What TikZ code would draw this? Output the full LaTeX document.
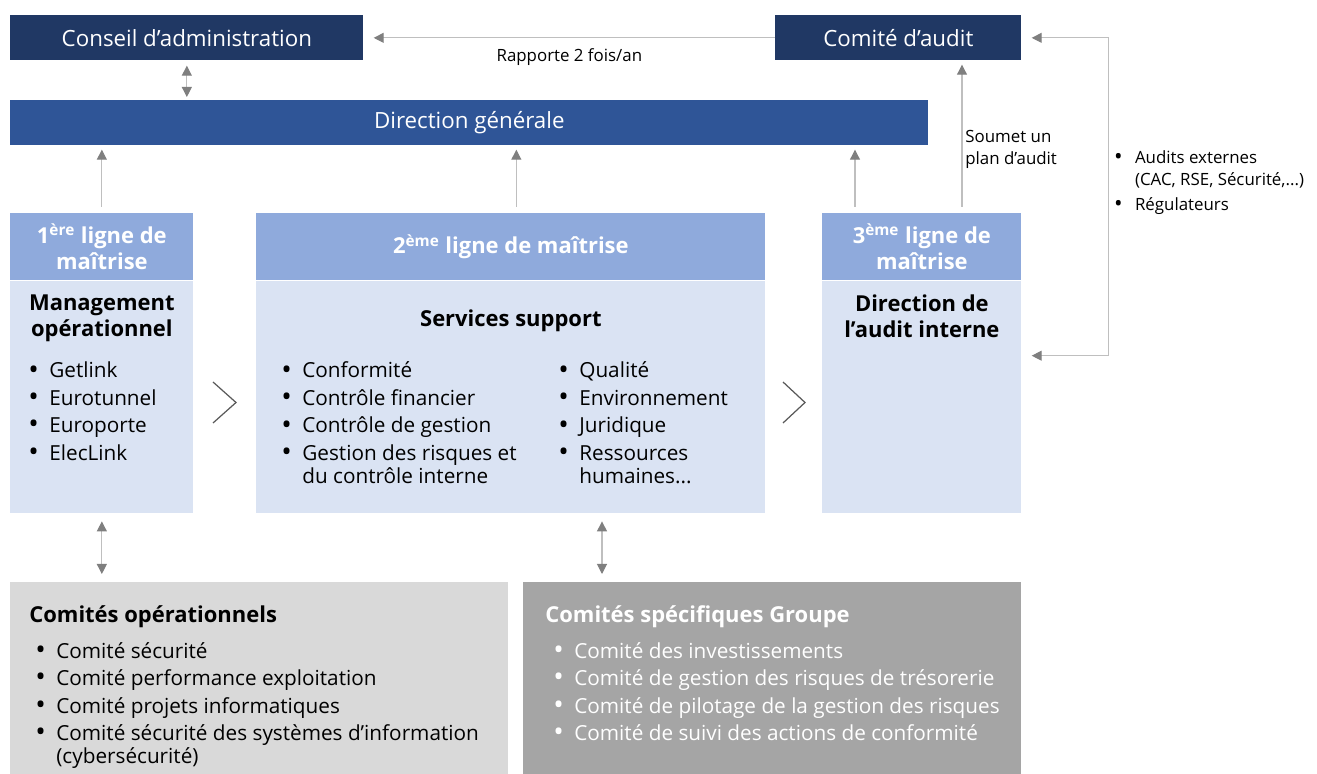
\documentclass[tikz,border=0pt]{standalone}
\usepackage{fontspec}
\setmainfont{Open Sans}
\usepackage{xcolor}
\usepackage{tikz}
\usetikzlibrary{arrows.meta, positioning}
\definecolor{navy}{HTML}{203864}
\definecolor{dgblue}{HTML}{2F5597}
\definecolor{headblue}{HTML}{8FAADC}
\definecolor{bodyblue}{HTML}{DAE3F3}
\definecolor{opgrey}{HTML}{D9D9D9}
\definecolor{grpgrey}{HTML}{A5A5A5}
\definecolor{linegrey}{HTML}{BFBFBF}
\definecolor{tipgrey}{HTML}{7F7F7F}
\definecolor{chevgrey}{HTML}{595959}
\newcommand{\bul}{\makebox[0.42cm][l]{\raisebox{-0.12ex}{\scalebox{1.35}{\textbullet}}}}
\newcommand{\bulind}{\hspace*{0.42cm}}
\newcommand{\listsize}{\fontsize{11.8}{13}\selectfont}
\tikzset{
  topbox/.style={rectangle, fill=navy, text=white, minimum height=0.9cm, inner sep=0pt, font=\fontsize{12.7}{14}\selectfont},
  dgbox/.style={topbox, fill=dgblue},
  headbox/.style={rectangle, fill=headblue, text=white, minimum height=1.34cm, inner sep=0pt, align=center, font=\bfseries\fontsize{12.5}{15.3}\selectfont},
  bodybox/.style={rectangle, fill=bodyblue, minimum height=4.64cm, inner sep=0pt},
  combox/.style={rectangle, minimum width=9.96cm, minimum height=3.84cm, inner sep=0pt},
  boxtitle/.style={inner sep=0pt, align=center, font=\bfseries\fontsize{12.5}{14.7}\selectfont},
  items/.style={inner sep=0pt, align=left, font=\listsize},
  note/.style={inner sep=0pt, align=left, font=\fontsize{9.6}{12.5}\selectfont},
  arrow/.style={draw=linegrey, line width=0.6pt, -{Triangle[length=2mm, width=2mm, color=tipgrey]}},
  twoway/.style={draw=linegrey, line width=0.6pt, {Triangle[length=2mm, width=2mm, color=tipgrey]}-{Triangle[length=2mm, width=2mm, color=tipgrey]}},
  chevron/.style={draw=chevgrey, line width=0.7pt},
}

\begin{document}
\begin{tikzpicture}
  \useasboundingbox (0,0) rectangle (26.34,-15.48);

  % top of the governance
  \node (conseil) [topbox, minimum width=7.06cm, anchor=north west] at (0.2,-0.3) {Conseil d’administration};
  \node (audit) [topbox, minimum width=4.92cm, anchor=north west] at (15.5,-0.3) {Comité d’audit};
  \node (dg) [dgbox, minimum width=18.36cm, anchor=north west] at (0.2,-2.0) {Direction générale};

  % three lines
  \node (head1) [headbox, minimum width=3.66cm, anchor=north west] at (0.2,-4.26) {1\textsuperscript{ère} ligne de\\maîtrise};
  \node (head2) [headbox, minimum width=10.18cm, anchor=north west] at (5.12,-4.26) {2\textsuperscript{ème} ligne de maîtrise};
  \node (head3) [headbox, minimum width=3.98cm, anchor=north west] at (16.44,-4.26) {3\textsuperscript{ème} ligne de\\maîtrise};
  \node (body1) [bodybox, minimum width=3.66cm, below=0pt of head1] {};
  \node (body2) [bodybox, minimum width=10.18cm, below=0pt of head2] {};
  \node (body3) [bodybox, minimum width=3.98cm, below=0pt of head3] {};

  \node (mgmt) [boxtitle, below=0.28cm of body1.north] {Management\\opérationnel};
  \node (srv) [boxtitle, below=0.58cm of body2.north] {Services support};
  \node (dai) [boxtitle, below=0.28cm of body3.north] {Direction de\\l’audit interne};

  \node (list1) [items, anchor=north west] at ([xshift=0.36cm, yshift=-1.62cm]body1.north west)
    {\bul Getlink\\[2.6pt]\bul Eurotunnel\\[2.6pt]\bul Europorte\\[2.6pt]\bul ElecLink};
  \node (list2a) [items, anchor=north west] at ([xshift=0.5cm, yshift=-1.62cm]body2.north west)
    {\bul Conformité\\[2.6pt]\bul Contrôle financier\\[2.6pt]\bul Contrôle de gestion\\[2.6pt]\bul Gestion des risques et\\\bulind du contrôle interne};
  \node (list2b) [items, anchor=north west] at ([xshift=6.04cm, yshift=-1.62cm]body2.north west)
    {\bul Qualité\\[2.6pt]\bul Environnement\\[2.6pt]\bul Juridique\\[2.6pt]\bul Ressources\\\bulind humaines...};

  % committees
  \node (comop) [combox, fill=opgrey, anchor=north west] at (0.2,-11.64) {};
  \node (comgrp) [combox, fill=grpgrey, anchor=north west] at (10.46,-11.64) {};
  \node (optitle) [boxtitle, anchor=north west] at ([xshift=0.38cm, yshift=-0.46cm]comop.north west) {Comités opérationnels};
  \node (oplist) [items, anchor=north west] at ([xshift=0.5cm, yshift=-1.2cm]comop.north west)
    {\bul Comité sécurité\\[2.6pt]\bul Comité performance exploitation\\[2.6pt]\bul Comité projets informatiques\\[2.6pt]\bul Comité sécurité des systèmes d’information\\\bulind (cybersécurité)};
  \node (grptitle) [boxtitle, text=white, anchor=north west] at ([xshift=0.44cm, yshift=-0.46cm]comgrp.north west) {Comités spécifiques Groupe};
  \node (grplist) [items, text=white, anchor=north west] at ([xshift=0.6cm, yshift=-1.2cm]comgrp.north west)
    {\bul Comité des investissements\\[2.6pt]\bul Comité de gestion des risques de trésorerie\\[2.6pt]\bul Comité de pilotage de la gestion des risques\\[2.6pt]\bul Comité de suivi des actions de conformité};

  % connectors
  \coordinate (h2) at ([xshift=0.11cm]head2.north);
  \coordinate (h3a) at ([xshift=0.66cm]head3.north west);
  \coordinate (h3b) at ([xshift=2.8cm]head3.north west);
  \coordinate (ext) at ([xshift=1.74cm]audit.east);
  \coordinate (d3) at ([yshift=-1.5cm]body3.north east);
  \coordinate (b2s) at ([xshift=6.92cm]body2.south west);

  \draw [arrow, shorten >=0.2cm] (audit) -- node (rap) [note, below=0.2cm, midway] {Rapporte 2 fois/an} (conseil);
  \draw [twoway, shorten <=0.1cm, shorten >=0.06cm] (conseil.south) -- (conseil.south |- dg.north);
  \draw [arrow, shorten <=0.12cm, shorten >=0.08cm] (head1.north) -- (head1.north |- dg.south);
  \draw [arrow, shorten <=0.12cm, shorten >=0.08cm] (h2) -- (h2 |- dg.south);
  \draw [arrow, shorten <=0.12cm, shorten >=0.08cm] (h3a) -- (h3a |- dg.south);
  \draw [arrow, shorten <=0.12cm, shorten >=0.08cm] (h3b) -- (h3b |- audit.south);
  \node (soumet) [note, anchor=west] at ([xshift=0.06cm, yshift=1.28cm]h3b) {Soumet un\\plan d’audit};
  \draw [twoway, shorten <=0.2cm, shorten >=0.2cm] (audit.east) -- (ext) |- (d3);
  \node (extlist) [note, anchor=north west] at ([xshift=0.1cm, yshift=-2.25cm]ext)
    {\bul Audits externes\\\bulind (CAC, RSE, Sécurité,...)\\[1.7pt]\bul Régulateurs};
  \draw [twoway, shorten <=0.16cm, shorten >=0.16cm] (body1.south) -- (body1.south |- comop.north);
  \draw [twoway, shorten <=0.16cm, shorten >=0.16cm] (b2s) -- (b2s |- comgrp.north);

  % chevrons between the lines
  \draw [chevron] (4.26,-7.64) -- (4.72,-8.05) -- (4.26,-8.46);
  \draw [chevron] (15.66,-7.64) -- (16.1,-8.05) -- (15.66,-8.46);

\end{tikzpicture}
\end{document}
